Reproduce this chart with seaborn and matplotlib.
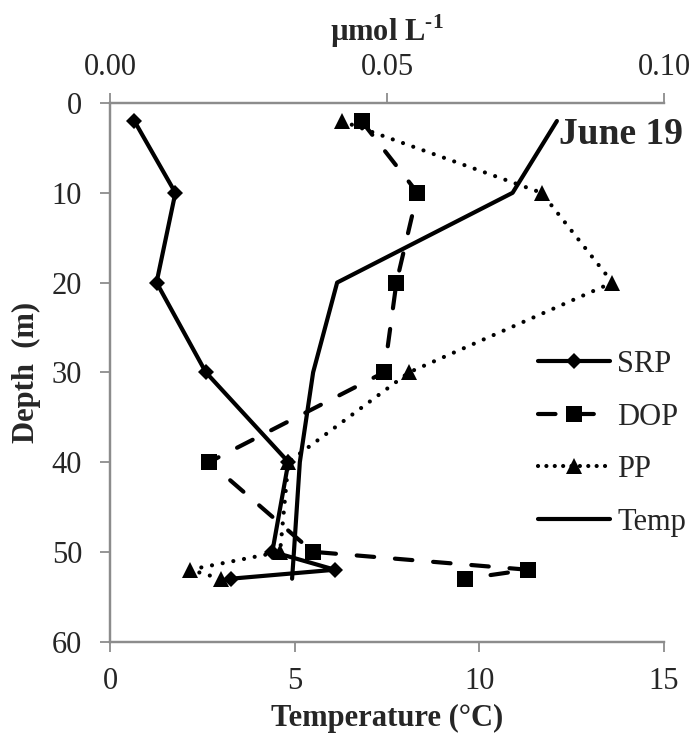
import matplotlib
matplotlib.use("Agg")
import matplotlib.pyplot as plt
import seaborn as sns
import pandas as pd
from matplotlib.lines import Line2D

# Phosphorus fractions (umol L-1) and temperature profile, June 19
srp_depth = [2, 10, 20, 30, 40, 50, 52, 53]
srp = [0.0044, 0.0118, 0.0084, 0.0173, 0.0322, 0.0293, 0.0406, 0.0218]

dop_depth = [2, 10, 20, 30, 40, 50, 52, 53]
dop = [0.0454, 0.0555, 0.0517, 0.0495, 0.0179, 0.0366, 0.0754, 0.0641]

pp_depth = [2, 10, 20, 30, 40, 50, 52, 53]
pp = [0.0418, 0.0779, 0.0907, 0.0540, 0.0322, 0.0307, 0.0144, 0.0200]

temp_depth = [2, 10, 20, 30, 40, 50, 53]
temp = [12.1, 10.9, 6.15, 5.5, 5.14, 4.98, 4.93]

temp_ticks = [0, 5, 10, 15]
conc_ticks = [0.00, 0.05, 0.10]
depth_ticks = [0, 10, 20, 30, 40, 50, 60]

sns.set_style("white")
plt.rcParams["font.family"] = ["Liberation Serif", "DejaVu Serif"]
plt.rcParams["mathtext.fontset"] = "custom"
plt.rcParams["mathtext.rm"] = "Liberation Serif"
plt.rcParams["mathtext.bf"] = "Liberation Serif:bold"

fig = plt.figure(figsize=(6.94, 7.42), dpi=100)
ax = fig.add_axes([0.1585, 0.1354, 0.7983, 0.7257])
ax2 = ax.twiny()

lw = 3.0
black = "black"
grey = "#8c8c8c"
dash_style = (0, (4.2, 5.0))
dot_style = (0, (0.01, 2.6))

# Temperature on the bottom axis
temp_df = pd.DataFrame({"Temperature": temp, "Depth": temp_depth})
sns.lineplot(data=temp_df, x="Temperature", y="Depth", orient="y", sort=False,
             estimator=None, color=black, lw=lw, ax=ax, legend=False)

# Phosphorus fractions on the top axis
srp_df = pd.DataFrame({"conc": srp, "Depth": srp_depth})
dop_df = pd.DataFrame({"conc": dop, "Depth": dop_depth})
pp_df = pd.DataFrame({"conc": pp, "Depth": pp_depth})

sns.lineplot(data=srp_df, x="conc", y="Depth", orient="y", sort=False, estimator=None,
             color=black, lw=lw, marker="D", markersize=8, markeredgewidth=0,
             ax=ax2, legend=False)
sns.lineplot(data=dop_df, x="conc", y="Depth", orient="y", sort=False, estimator=None,
             color=black, lw=lw, marker="s", markersize=11, markeredgewidth=0,
             ax=ax2, legend=False)
sns.lineplot(data=pp_df, x="conc", y="Depth", orient="y", sort=False, estimator=None,
             color=black, lw=lw, marker="^", markersize=11.5, markeredgewidth=0,
             ax=ax2, legend=False)

dop_line = ax2.lines[1]
dop_line.set_linestyle(dash_style)
dop_line.set_dash_capstyle("round")
pp_line = ax2.lines[2]
pp_line.set_linestyle(dot_style)
pp_line.set_dash_capstyle("round")

ax.set_xlim(0, 15)
ax2.set_xlim(0, 0.10)
ax.set_ylim(60, 0)
ax.set_xticks(temp_ticks)
ax.set_xticklabels([str(t) for t in temp_ticks])
ax2.set_xticks(conc_ticks)
ax2.set_xticklabels([f"{t:.2f}" for t in conc_ticks])
ax.set_yticks(depth_ticks)
ax.set_yticklabels([str(t) for t in depth_ticks])

fs = 22
ax.tick_params(axis="x", labelsize=fs, length=7, width=1.3, color=grey,
               direction="out", pad=11, bottom=True)
ax.tick_params(axis="y", labelsize=fs, length=7, width=1.3, color=grey,
               direction="out", pad=13, left=True)
ax2.tick_params(axis="x", labelsize=fs, length=7, width=1.3, color=grey,
                direction="out", pad=8, top=True)

for a in (ax, ax2):
    for side in ("left", "bottom", "top"):
        a.spines[side].set_visible(True)
        a.spines[side].set_color(grey)
        a.spines[side].set_linewidth(1.6)
    a.spines["right"].set_visible(False)

ax.set_xlabel("Temperature (°C)", fontsize=22, fontweight="bold", labelpad=6)
ax.set_ylabel("Depth  (m)", fontsize=22, fontweight="bold", labelpad=8)
ax2.set_xlabel("µmol L$^{\\mathbf{\u20101}}$", fontsize=22, fontweight="bold",
               labelpad=9)

ax.text(1.034, 0.942, "June 19", transform=ax.transAxes, ha="right", va="center",
        fontsize=27, fontweight="bold")

handles = [
    Line2D([], [], color=black, lw=lw, marker="D", markersize=8, markeredgewidth=0),
    Line2D([], [], color=black, lw=lw, marker="s", markersize=11, markeredgewidth=0,
           linestyle=dash_style, dash_capstyle="round"),
    Line2D([], [], color=black, lw=lw, marker="^", markersize=11.5, markeredgewidth=0,
           linestyle=(0, (0.01, 2.0)), dash_capstyle="round"),
    Line2D([], [], color=black, lw=lw),
]
leg = ax.legend(handles, ["SRP", "DOP", "PP", "Temp"], loc="center left",
                bbox_to_anchor=(0.751, 0.368), frameon=False, fontsize=22,
                handlelength=2.36, handletextpad=0.23, labelspacing=0.77,
                borderaxespad=0)

fig.savefig("out.png", dpi=100)
